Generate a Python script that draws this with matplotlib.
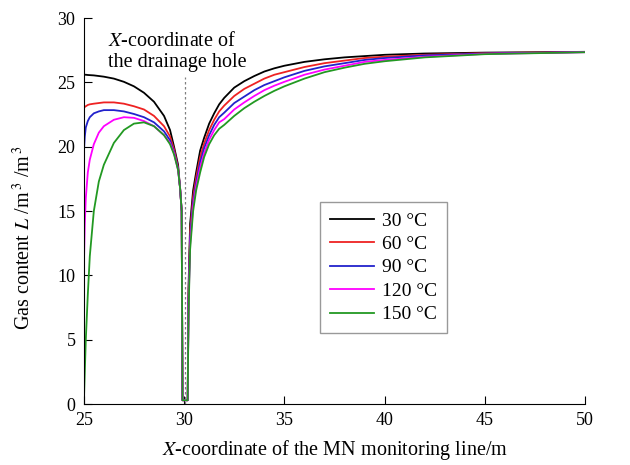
import matplotlib
matplotlib.use('Agg')
import matplotlib.pyplot as plt

plt.rcParams['font.family'] = ['Liberation Serif', 'DejaVu Serif']
plt.rcParams['mathtext.fontset'] = 'stix'

# x positions along the MN line (left branch, hole, right branch)
x = [25, 25.05, 25.1, 25.2, 25.3, 25.5, 25.75, 26, 26.5, 27, 27.5, 28, 28.5, 29,
     29.3, 29.5, 29.7, 29.8, 29.88, 29.92, 30.18, 30.22, 30.3, 30.45, 30.6, 30.8,
     31, 31.25, 31.5, 31.75, 32, 32.5, 33, 33.5, 34, 34.5, 35, 36, 37, 38, 39, 40,
     42, 45, 50]

gas_30 = [25.6, 25.6, 25.6, 25.58, 25.57, 25.55, 25.5, 25.45, 25.3, 25.05, 24.7, 24.2, 23.5, 22.4,
          21.3, 20.0, 18.6, 16.8, 15.0, 0.3, 0.3, 9.0, 14.0, 16.6, 18.0, 19.7,
          20.7, 21.8, 22.6, 23.3, 23.8, 24.6, 25.1, 25.5, 25.85, 26.1, 26.3, 26.6, 26.8, 26.95, 27.05, 27.15,
          27.25, 27.32, 27.38]
gas_60 = [23.0, 23.1, 23.15, 23.25, 23.3, 23.35, 23.4, 23.45, 23.45, 23.35, 23.15, 22.9, 22.4, 21.6,
          20.8, 19.8, 18.4, 16.8, 15.0, 0.3, 0.3, 8.4, 13.4, 16.1, 17.6, 19.2,
          20.25, 21.3, 22.1, 22.75, 23.2, 23.95, 24.5, 24.9, 25.3, 25.6, 25.8, 26.2, 26.5, 26.7, 26.9, 27.0,
          27.15, 27.28, 27.37]
gas_90 = [19.5, 20.8, 21.5, 22.0, 22.3, 22.6, 22.75, 22.85, 22.85, 22.75, 22.55, 22.3, 21.9, 21.2,
          20.5, 19.6, 18.3, 16.8, 15.0, 0.3, 0.3, 7.9, 12.9, 15.7, 17.2, 18.8,
          19.9, 20.9, 21.7, 22.3, 22.65, 23.4, 23.9, 24.4, 24.8, 25.1, 25.4, 25.9, 26.25, 26.5, 26.75, 26.9,
          27.1, 27.25, 27.36]
gas_120 = [10.4, 14.0, 16.0, 18.0, 19.0, 20.2, 21.1, 21.6, 22.1, 22.3, 22.25, 22.0, 21.6, 20.9,
           20.3, 19.5, 18.2, 16.8, 15.0, 0.3, 0.3, 7.4, 12.4, 15.4, 16.9, 18.4,
           19.5, 20.55, 21.3, 21.9, 22.15, 22.9, 23.45, 23.95, 24.4, 24.75, 25.05, 25.6, 26.0, 26.3, 26.6, 26.75,
           27.0, 27.22, 27.35]
gas_150 = [0.0, 2.5, 5.0, 8.5, 11.5, 15.0, 17.3, 18.6, 20.3, 21.3, 21.8, 21.9, 21.6, 20.9,
           20.2, 19.4, 18.2, 16.8, 15.0, 0.3, 0.3, 7.0, 12.0, 15.0, 16.6, 18.0,
           19.2, 20.2, 20.9, 21.4, 21.7, 22.4, 23.0, 23.5, 23.95, 24.35, 24.7, 25.3, 25.8, 26.15, 26.45, 26.65,
           26.95, 27.2, 27.35]

labels = ['30 °C', '60 °C', '90 °C', '120 °C', '150 °C']
colors = ['black', '#ee2222', '#2222cc', '#ff00ff', '#229922']
series = [gas_30, gas_60, gas_90, gas_120, gas_150]

fig = plt.figure(figsize=(6.3, 4.65), dpi=100)
ax = fig.add_axes([0.133, 0.131, 0.796, 0.830])

for y, c, lab in zip(series, colors, labels):
    ax.plot(x, y, color=c, linewidth=1.3, label=lab)

ax.plot([30.05, 30.05], [0, 25.4], color='gray', linestyle=(0, (2, 2)), linewidth=0.9)
ax.text(26.2, 28.9, '$\\it{X}$-coordinate of\nthe drainage hole', fontsize=14.5,
        ha='left', va='top', linespacing=1.15)

ax.set_xlim(25, 50)
ax.set_ylim(0, 30)
ax.set_xticks([25, 30, 35, 40, 45, 50])
ax.set_yticks([0, 5, 10, 15, 20, 25, 30])
ax.spines['top'].set_visible(False)
ax.spines['right'].set_visible(False)
ax.tick_params(direction='in', length=6, labelsize=13, pad=6)
ax.set_xlabel('$\\it{X}$-coordinate of the MN monitoring line/m', fontsize=14.5, labelpad=6)
ax.set_ylabel('Gas content $\\it{L}$ /m$^{\\,3}$ /m$^{\\,3}$', fontsize=14.5)
ax.yaxis.set_label_coords(-0.098, 0.43)

leg = ax.legend(loc='lower left', bbox_to_anchor=(0.471, 0.184), borderaxespad=0,
                fontsize=14, fancybox=False, edgecolor='gray', handlelength=2.3,
                handletextpad=0.4, labelspacing=0.3, borderpad=0.5)
leg.get_frame().set_linewidth(1.0)

fig.savefig('out.png', dpi=100)
